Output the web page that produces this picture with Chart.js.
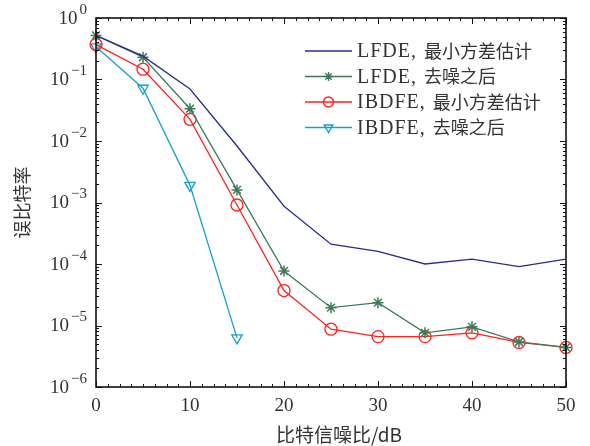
<!DOCTYPE html>
<html>
<head>
<meta charset="utf-8">
<script src="https://cdn.jsdelivr.net/npm/chart.js@4/dist/chart.umd.min.js"></script>
<style>
  html, body { margin: 0; padding: 0; background: #fff; }
  #wrap { width: 590px; height: 446px; }
</style>
</head>
<body>
<div id="wrap"><canvas id="ber"></canvas></div>
<script>
// SNR points (dB)
const snr = [0, 5, 10, 15, 20, 25, 30, 35, 40, 45, 50];
// bit error rates
const lfdeMmse    = [0.52, 0.24, 0.07, 0.0083, 8.7e-4, 2.1e-4, 1.6e-4, 1.0e-4, 1.2e-4, 9.1e-5, 1.2e-4];
const lfdeDenoise = [0.52, 0.23, 0.0335, 1.6e-3, 7.7e-5, 1.95e-5, 2.35e-5, 7.6e-6, 9.5e-6, 5.4e-6, 4.4e-6];
const ibdfeMmse   = [0.37, 0.147, 0.0225, 9.1e-4, 3.7e-5, 8.7e-6, 6.6e-6, 6.6e-6, 7.6e-6, 5.3e-6, 4.4e-6];
const ibdfeDenoise = [0.34, 0.072, 1.9e-3, 6.3e-6];

const xTicks = [0, 10, 20, 30, 40, 50];
const yExps = [0, -1, -2, -3, -4, -5, -6];
const seriesNames = ['LFDE, 最小方差估计', 'LFDE, 去噪之后', 'IBDFE, 最小方差估计', 'IBDFE, 去噪之后'];

const serif = '"Liberation Serif", "DejaVu Serif", serif';
const cjk = '"Noto Sans CJK SC", sans-serif';
const txt = '#333';

function pts(ys) {
    return ys.map((v, i) => ({ x: snr[i], y: v }));
}

// draws box, inward ticks, tick labels, titles and legend
const frame = {
    id: 'frame',
    afterDraw(chart) {
        const ctx = chart.ctx;
        const a = chart.chartArea;
        const xs = chart.scales.x, ys = chart.scales.y;
        ctx.save();
        ctx.strokeStyle = '#111';
        ctx.lineWidth = 1;

        // minor ticks
        ctx.beginPath();
        for (let v = 1.25; v < 50; v += 1.25) {
            const px = Math.round(xs.getPixelForValue(v)) + 0.5;
            ctx.moveTo(px, a.bottom); ctx.lineTo(px, a.bottom - 3);
            ctx.moveTo(px, a.top); ctx.lineTo(px, a.top + 3);
        }
        for (let e = -6; e < 0; e++) {
            for (let m = 2; m <= 9; m++) {
                const py = Math.round(ys.getPixelForValue(m * Math.pow(10, e))) + 0.5;
                ctx.moveTo(a.left, py); ctx.lineTo(a.left + 3, py);
                ctx.moveTo(a.right, py); ctx.lineTo(a.right - 3, py);
            }
        }
        ctx.stroke();

        // major ticks
        ctx.beginPath();
        xTicks.forEach(v => {
            const px = Math.round(xs.getPixelForValue(v)) + 0.5;
            ctx.moveTo(px, a.bottom); ctx.lineTo(px, a.bottom - 6);
            ctx.moveTo(px, a.top); ctx.lineTo(px, a.top + 6);
        });
        yExps.forEach(e => {
            const py = Math.round(ys.getPixelForValue(Math.pow(10, e))) + 0.5;
            ctx.moveTo(a.left, py); ctx.lineTo(a.left + 6, py);
            ctx.moveTo(a.right, py); ctx.lineTo(a.right - 6, py);
        });
        ctx.stroke();

        // box
        ctx.lineWidth = 1.6;
        ctx.strokeRect(a.left, a.top, a.right - a.left, a.bottom - a.top);

        // x tick labels
        ctx.fillStyle = txt;
        ctx.font = '19px ' + serif;
        ctx.textAlign = 'center';
        ctx.textBaseline = 'middle';
        xTicks.forEach(v => {
            ctx.fillText(String(v), xs.getPixelForValue(v), a.bottom + 19);
        });

        // y tick labels 10^e
        yExps.forEach(e => {
            const py = ys.getPixelForValue(Math.pow(10, e));
            const sup = e === 0 ? '0' : '\u2212' + (-e);
            ctx.font = '15px ' + serif;
            const sw = ctx.measureText(sup).width;
            ctx.textAlign = 'right';
            ctx.fillText(sup, a.left - 9, py - 8);
            ctx.font = '19px ' + serif;
            ctx.fillText('10', a.left - 11 - sw, py + 1);
        });

        // axis titles
        ctx.font = '19px ' + cjk;
        ctx.textAlign = 'center';
        ctx.fillText('比特信噪比/dB', (a.left + a.right) / 2 + 8, a.bottom + 48);
        ctx.font = '18px ' + cjk;
        ctx.save();
        ctx.translate(22, (a.top + a.bottom) / 2);
        ctx.rotate(-Math.PI / 2);
        ctx.fillText('误比特率', 0, 0);
        ctx.restore();

        // legend
        chart.data.datasets.forEach((ds, i) => {
            const y = 51 + i * 25.5;
            ctx.strokeStyle = ds.borderColor;
            ctx.lineWidth = 1.4;
            ctx.beginPath();
            ctx.moveTo(305, y); ctx.lineTo(352, y);
            ctx.stroke();
            if (ds.pointStyle !== false && ds.pointRadius > 0) {
                ctx.fillStyle = 'rgba(0,0,0,0)';
                Chart.helpers.drawPoint(ctx, {
                    pointStyle: ds.pointStyle,
                    rotation: ds.pointRotation || 0,
                    radius: ds.pointRadius - 1,
                    borderWidth: 1.3
                }, 328.5, y);
            }
            ctx.fillStyle = txt;
            ctx.textAlign = 'left';
            const name = seriesNames[i];
            const cut = name.indexOf(',') + 1;
            ctx.font = '20px ' + serif;
            ctx.letterSpacing = '1px';
            ctx.fillText(name.slice(0, cut), 357, y + 1);
            const w = ctx.measureText(name.slice(0, cut)).width;
            ctx.letterSpacing = '0px';
            ctx.font = '18px ' + cjk;
            ctx.fillText(name.slice(cut), 357 + w + 3, y);
        });
        ctx.restore();
    }
};

new Chart(document.getElementById('ber'), {
    type: 'line',
    data: {
        datasets: [
            {
                label: seriesNames[0], data: pts(lfdeMmse),
                borderColor: '#2a2c8e', borderWidth: 1.3,
                pointRadius: 0, pointStyle: false
            },
            {
                label: seriesNames[1], data: pts(lfdeDenoise),
                borderColor: '#3f7a58', borderWidth: 1.3,
                pointStyle: 'star', pointRadius: 5.5, pointBorderWidth: 1.5,
                pointBorderColor: '#3f7a58', pointBackgroundColor: 'transparent'
            },
            {
                label: seriesNames[2], data: pts(ibdfeMmse),
                borderColor: '#ff2020', borderWidth: 1.3,
                pointStyle: 'circle', pointRadius: 6, pointBorderWidth: 1.3,
                pointBorderColor: '#ff2020', pointBackgroundColor: 'transparent'
            },
            {
                label: seriesNames[3], data: pts(ibdfeDenoise),
                borderColor: '#14a0d2', borderWidth: 1.3,
                pointStyle: 'triangle', pointRotation: 180, pointRadius: 6, pointBorderWidth: 1.3,
                pointBorderColor: '#14a0d2', pointBackgroundColor: 'transparent'
            }
        ]
    },
    options: {
        responsive: true,
        maintainAspectRatio: false,
        animation: false,
        clip: false,
        layout: { padding: { left: 88, right: 24, top: 18, bottom: 51 } },
        plugins: { legend: { display: false }, tooltip: { enabled: false } },
        scales: {
            x: {
                type: 'linear', min: 0, max: 50,
                grid: { display: false }, border: { display: false },
                ticks: { display: false }
            },
            y: {
                type: 'logarithmic', min: 1e-6, max: 1,
                grid: { display: false }, border: { display: false },
                ticks: { display: false }
            }
        }
    },
    plugins: [frame]
});
</script>
</body>
</html>
